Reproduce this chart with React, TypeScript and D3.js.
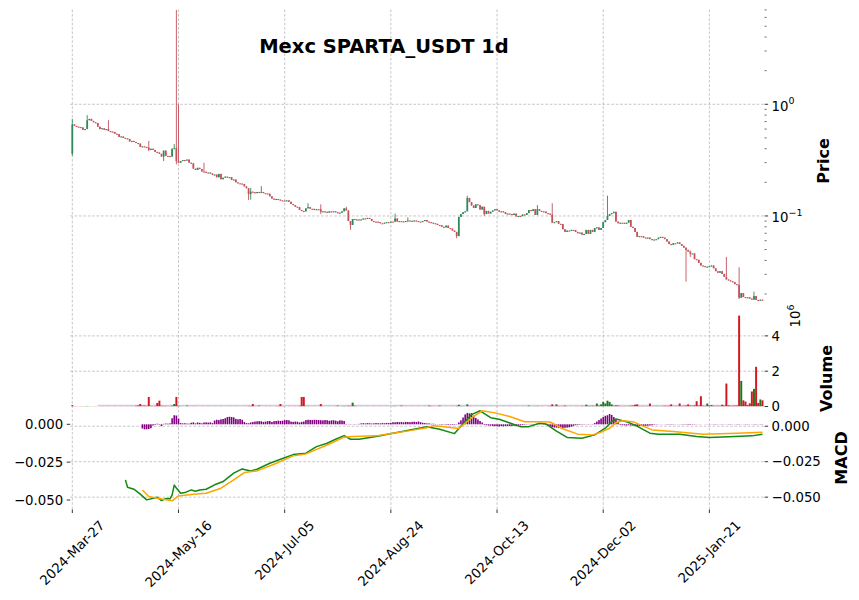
import React from "react";
import * as d3 from "d3";

// ---------------- DATA ----------------
const tickIndex = [0, 50, 100, 150, 200, 250, 300];
const tickLabels = ["2024-Mar-27", "2024-May-16", "2024-Jul-05", "2024-Aug-24", "2024-Oct-13", "2024-Dec-02", "2025-Jan-21"];

const opens = [
  0.36, 0.66, 0.64, 0.63, 0.625, 0.62, 0.59, 0.60, 0.72, 0.74,
  0.71, 0.69, 0.68, 0.63, 0.60, 0.61, 0.59, 0.60, 0.575, 0.57,
  0.565, 0.545, 0.54, 0.51, 0.515, 0.50, 0.495, 0.49, 0.465, 0.47,
  0.46, 0.45, 0.445, 0.415, 0.42, 0.415, 0.41, 0.39, 0.40, 0.39,
  0.375, 0.37, 0.36, 0.34, 0.385, 0.345, 0.344, 0.34, 0.40, 0.405,
  0.31, 0.30, 0.31, 0.317, 0.315, 0.32, 0.30, 0.296, 0.265, 0.258,
  0.27, 0.263, 0.25, 0.249, 0.244, 0.245, 0.24, 0.233, 0.235, 0.222,
  0.238, 0.213, 0.22, 0.225, 0.222, 0.223, 0.21, 0.212, 0.20, 0.196,
  0.195, 0.193, 0.184, 0.177, 0.157, 0.165, 0.163, 0.16, 0.164, 0.163,
  0.164, 0.16, 0.159, 0.158, 0.15, 0.143, 0.14, 0.142, 0.14, 0.138,
  0.1375, 0.137, 0.138, 0.134, 0.128, 0.125, 0.121, 0.12, 0.113, 0.111,
  0.11, 0.117, 0.12, 0.116, 0.1158, 0.113, 0.115, 0.1148, 0.109, 0.11,
  0.109, 0.107, 0.11, 0.109, 0.11, 0.108, 0.106, 0.107, 0.11, 0.117,
  0.112, 0.09, 0.083, 0.094, 0.092, 0.093, 0.092, 0.093, 0.095, 0.0945,
  0.096, 0.094, 0.09, 0.089, 0.0888, 0.088, 0.086, 0.0858, 0.087, 0.088,
  0.0878, 0.089, 0.0888, 0.095, 0.089, 0.09, 0.0895, 0.089, 0.09, 0.091,
  0.0905, 0.09, 0.091, 0.09, 0.089, 0.0888, 0.09, 0.092, 0.089, 0.088,
  0.087, 0.086, 0.085, 0.083, 0.0825, 0.08, 0.079, 0.082, 0.078, 0.077,
  0.074, 0.072, 0.066, 0.098, 0.104, 0.108, 0.11, 0.145, 0.133, 0.124,
  0.118, 0.127, 0.125, 0.114, 0.121, 0.104, 0.111, 0.105, 0.109, 0.112,
  0.115, 0.112, 0.109, 0.11, 0.108, 0.104, 0.105, 0.104, 0.102, 0.105,
  0.099, 0.1, 0.0995, 0.103, 0.102, 0.106, 0.113, 0.111, 0.115, 0.102,
  0.115, 0.111, 0.11, 0.1095, 0.106, 0.105, 0.103, 0.087, 0.088, 0.09,
  0.085, 0.0845, 0.076, 0.072, 0.074, 0.0738, 0.075, 0.0748, 0.072, 0.07,
  0.071, 0.068, 0.069, 0.075, 0.069, 0.075, 0.072, 0.078, 0.079, 0.075,
  0.078, 0.088, 0.092, 0.10, 0.104, 0.106, 0.109, 0.089, 0.086, 0.087,
  0.0868, 0.085, 0.087, 0.092, 0.08, 0.078, 0.072, 0.065, 0.066, 0.0658,
  0.064, 0.0635, 0.064, 0.062, 0.061, 0.0615, 0.062, 0.064, 0.065, 0.064,
  0.062, 0.059, 0.056, 0.055, 0.057, 0.0568, 0.058, 0.056, 0.054, 0.052,
  0.0497, 0.048, 0.046, 0.0462, 0.041, 0.0405, 0.038, 0.036, 0.0355, 0.035,
  0.0352, 0.0355, 0.036, 0.034, 0.032, 0.031, 0.032, 0.0303, 0.0285, 0.027,
  0.0265, 0.026, 0.0255, 0.0245, 0.0242, 0.0185, 0.0204, 0.0188, 0.0186, 0.0187,
  0.0182, 0.0178, 0.0192, 0.0177, 0.0175, 0.0178,
];

const closes = [
  0.66, 0.64, 0.63, 0.625, 0.62, 0.59, 0.60, 0.72, 0.74, 0.71,
  0.69, 0.68, 0.63, 0.60, 0.61, 0.59, 0.60, 0.575, 0.57, 0.565,
  0.545, 0.54, 0.51, 0.515, 0.50, 0.495, 0.49, 0.465, 0.47, 0.46,
  0.45, 0.445, 0.415, 0.42, 0.415, 0.41, 0.39, 0.40, 0.39, 0.375,
  0.37, 0.36, 0.34, 0.385, 0.345, 0.344, 0.34, 0.40, 0.405, 0.31,
  0.30, 0.31, 0.317, 0.315, 0.32, 0.30, 0.296, 0.265, 0.258, 0.27,
  0.263, 0.25, 0.249, 0.244, 0.245, 0.24, 0.233, 0.235, 0.222, 0.238,
  0.213, 0.22, 0.225, 0.222, 0.223, 0.21, 0.212, 0.20, 0.196, 0.195,
  0.193, 0.184, 0.177, 0.157, 0.165, 0.163, 0.16, 0.164, 0.163, 0.164,
  0.16, 0.159, 0.158, 0.15, 0.143, 0.14, 0.142, 0.14, 0.138, 0.1375,
  0.137, 0.138, 0.134, 0.128, 0.125, 0.121, 0.12, 0.113, 0.111, 0.11,
  0.117, 0.12, 0.116, 0.1158, 0.113, 0.115, 0.1148, 0.109, 0.11, 0.109,
  0.107, 0.11, 0.109, 0.11, 0.108, 0.106, 0.107, 0.11, 0.117, 0.112,
  0.09, 0.083, 0.094, 0.092, 0.093, 0.092, 0.093, 0.095, 0.0945, 0.096,
  0.094, 0.09, 0.089, 0.0888, 0.088, 0.086, 0.0858, 0.087, 0.088, 0.0878,
  0.089, 0.0888, 0.095, 0.089, 0.09, 0.0895, 0.089, 0.09, 0.091, 0.0905,
  0.09, 0.091, 0.09, 0.089, 0.0888, 0.09, 0.092, 0.089, 0.088, 0.087,
  0.086, 0.085, 0.083, 0.0825, 0.08, 0.079, 0.082, 0.078, 0.077, 0.074,
  0.072, 0.066, 0.098, 0.104, 0.108, 0.11, 0.145, 0.133, 0.124, 0.118,
  0.127, 0.125, 0.114, 0.121, 0.104, 0.111, 0.105, 0.109, 0.112, 0.115,
  0.112, 0.109, 0.11, 0.108, 0.104, 0.105, 0.104, 0.102, 0.105, 0.099,
  0.1, 0.0995, 0.103, 0.102, 0.106, 0.113, 0.111, 0.115, 0.102, 0.115,
  0.111, 0.11, 0.1095, 0.106, 0.105, 0.103, 0.087, 0.088, 0.09, 0.085,
  0.0845, 0.076, 0.072, 0.074, 0.0738, 0.075, 0.0748, 0.072, 0.07, 0.071,
  0.068, 0.069, 0.075, 0.069, 0.075, 0.072, 0.078, 0.079, 0.075, 0.078,
  0.088, 0.092, 0.10, 0.104, 0.106, 0.109, 0.089, 0.086, 0.087, 0.0868,
  0.085, 0.087, 0.092, 0.08, 0.078, 0.072, 0.065, 0.066, 0.0658, 0.064,
  0.0635, 0.064, 0.062, 0.061, 0.0615, 0.062, 0.064, 0.065, 0.064, 0.062,
  0.059, 0.056, 0.055, 0.057, 0.0568, 0.058, 0.056, 0.054, 0.052, 0.0497,
  0.048, 0.046, 0.0462, 0.041, 0.0405, 0.038, 0.036, 0.0355, 0.035, 0.0352,
  0.0355, 0.036, 0.034, 0.032, 0.031, 0.032, 0.0303, 0.0285, 0.027, 0.0265,
  0.026, 0.0255, 0.0245, 0.0242, 0.0185, 0.0204, 0.0188, 0.0186, 0.0187, 0.0182,
  0.0178, 0.0192, 0.0177, 0.0175, 0.0178, 0.0176,
];

// notable wicks (index -> price)
const wickHighIdx = [0, 7, 17, 36, 48, 49, 50, 62, 84, 89, 111, 117, 129, 152, 158, 186, 219, 226, 252, 291, 308, 314, 321];
const wickHighVal = [0.74, 0.80, 0.72, 0.47, 0.44, 7.0, 1.0, 0.30, 0.178, 0.185, 0.13, 0.127, 0.121, 0.105, 0.097, 0.152, 0.125, 0.13, 0.152, 0.049, 0.043, 0.0347, 0.021];
const wickLowIdx = [0, 36, 43, 49, 83, 84, 117, 131, 181, 194, 289, 291, 314];
const wickLowVal = [0.345, 0.38, 0.31, 0.29, 0.139, 0.14, 0.104, 0.075, 0.063, 0.1, 0.0258, 0.043, 0.018];

// volume, in millions
const volumeMillions = [
  0.08, 0.02, 0.02, 0.01, 0.02, 0.01, 0.02, 0.03, 0.02, 0.01,
  0.01, 0.02, 0.01, 0.01, 0.02, 0.01, 0.01, 0.02, 0.01, 0.01,
  0.02, 0.01, 0.01, 0.02, 0.01, 0.01, 0.02, 0.01, 0.02, 0.01,
  0.04, 0.06, 0.14, 0.04, 0.05, 0.03, 0.54, 0.03, 0.02, 0.03,
  0.2, 0.33, 0.04, 0.03, 0.03, 0.02, 0.02, 0.05, 0.14, 0.54,
  0.04, 0.02, 0.02, 0.01, 0.05, 0.02, 0.01, 0.02, 0.02, 0.01,
  0.01, 0.02, 0.01, 0.01, 0.02, 0.01, 0.01, 0.02, 0.01, 0.01,
  0.02, 0.01, 0.01, 0.01, 0.02, 0.01, 0.01, 0.02, 0.01, 0.01,
  0.01, 0.02, 0.01, 0.03, 0.03, 0.14, 0.02, 0.02, 0.05, 0.01,
  0.01, 0.02, 0.01, 0.02, 0.01, 0.01, 0.02, 0.03, 0.14, 0.02,
  0.01, 0.01, 0.02, 0.01, 0.01, 0.02, 0.01, 0.03, 0.54, 0.54,
  0.02, 0.02, 0.01, 0.01, 0.02, 0.01, 0.01, 0.14, 0.02, 0.01,
  0.01, 0.02, 0.01, 0.01, 0.02, 0.05, 0.01, 0.02, 0.03, 0.02,
  0.04, 0.03, 0.22, 0.04, 0.02, 0.01, 0.02, 0.01, 0.01, 0.02,
  0.01, 0.01, 0.02, 0.01, 0.01, 0.02, 0.01, 0.01, 0.02, 0.01,
  0.01, 0.02, 0.03, 0.01, 0.01, 0.05, 0.01, 0.02, 0.01, 0.01,
  0.02, 0.01, 0.01, 0.02, 0.01, 0.01, 0.02, 0.01, 0.05, 0.03,
  0.02, 0.01, 0.02, 0.05, 0.01, 0.01, 0.02, 0.01, 0.01, 0.02,
  0.01, 0.03, 0.1, 0.03, 0.02, 0.02, 0.12, 0.03, 0.02, 0.01,
  0.02, 0.01, 0.01, 0.02, 0.02, 0.01, 0.01, 0.02, 0.01, 0.01,
  0.02, 0.01, 0.01, 0.02, 0.01, 0.01, 0.02, 0.01, 0.01, 0.02,
  0.01, 0.01, 0.02, 0.01, 0.02, 0.05, 0.01, 0.02, 0.02, 0.03,
  0.01, 0.02, 0.01, 0.01, 0.02, 0.03, 0.12, 0.02, 0.12, 0.03,
  0.02, 0.03, 0.05, 0.02, 0.01, 0.02, 0.01, 0.02, 0.02, 0.01,
  0.03, 0.02, 0.1, 0.04, 0.03, 0.04, 0.03, 0.17, 0.05, 0.12,
  0.26, 0.17, 0.33, 0.26, 0.12, 0.04, 0.06, 0.05, 0.03, 0.02,
  0.03, 0.02, 0.03, 0.04, 0.05, 0.1, 0.12, 0.03, 0.02, 0.03,
  0.02, 0.03, 0.17, 0.02, 0.02, 0.03, 0.02, 0.02, 0.03, 0.04,
  0.03, 0.04, 0.12, 0.02, 0.03, 0.02, 0.17, 0.03, 0.04, 0.05,
  0.12, 0.05, 0.04, 0.06, 0.3, 0.05, 0.58, 0.04, 0.03, 0.17,
  0.06, 0.08, 0.04, 0.03, 0.04, 0.03, 0.1, 0.05, 1.3, 0.06,
  0.04, 0.04, 0.05, 0.05, 5.15, 1.45, 0.35, 0.28, 0.08, 0.18,
  0.85, 1.0, 2.25, 0.2, 0.4, 0.35,
];
const volumeLineStart = 12;

// MACD histogram, starting at index 33
const histStart = 33;
const macdHist = [
  -0.0028, -0.0033, -0.0033, -0.0031, -0.0026, -0.0008, -0.0004, 0.0004, -0.0003, -0.0012,
  0.0003, 0.0005, 0.0004, 0.0006, 0.004, 0.006, 0.0058, 0.0038, 0.0008, 0.0006,
  0.0007, 0.0005, 0.0004, 0.001, 0.0013, 0.0006, 0.0012, 0.001, 0.0006, 0.0012,
  0.0013, 0.0011, 0.0013, 0.0008, 0.0025, 0.003, 0.0028, 0.0033, 0.0035, 0.004,
  0.0048, 0.005, 0.0048, 0.0046, 0.0036, 0.0033, 0.0035, 0.003, 0.0015, 0.0008,
  0.0007, 0.0012, 0.0015, 0.0018, 0.002, 0.0021, 0.002, 0.0016, 0.0018, 0.0021,
  0.0022, 0.0015, 0.0021, 0.0022, 0.0024, 0.0022, 0.0024, 0.0027, 0.0028, 0.0026,
  0.0018, 0.0016, 0.0018, 0.0017, 0.0012, 0.0016, 0.0018, 0.0028, 0.003, 0.0029,
  0.0028, 0.003, 0.0029, 0.0028, 0.0027, 0.0026, 0.0028, 0.0027, 0.0023, 0.0026,
  0.0027, 0.0024, 0.002, 0.0026, 0.0025, 0.0022, 0.0002, 0.0001, -0.0002, 0.0001,
  0.0002, 0.0001, 0.0003, 0.0006, 0.0007, 0.0006, 0.0008, 0.0007, 0.0005, 0.0006,
  0.0008, 0.0007, 0.0006, 0.0008, 0.0007, 0.0009, 0.0008, 0.001, 0.0014, 0.0013,
  0.0015, 0.0014, 0.0015, 0.0013, 0.0016, 0.0015, 0.0014, 0.0016, 0.0017, 0.0015,
  0.0018, 0.0014, 0.001, 0.0008, 0.0006, 0.0006, 0.0003, 0.0004, 0.0002, 0.0001,
  -0.0002, -0.0003, -0.0002, -0.0003, -0.0004, -0.0003, -0.0004, -0.0003, -0.0002, 0.0012,
  0.0026, 0.0045, 0.0065, 0.0075, 0.0072, 0.0074, 0.0057, 0.0042, 0.0032, 0.0022,
  0.0012, -0.0004, -0.0006, -0.0008, -0.0009, -0.0011, -0.0012, -0.0013, -0.0014, -0.0012,
  -0.0013, -0.0012, -0.0011, -0.0012, -0.0011, -0.001, -0.0011, -0.0008, -0.0007, -0.0005,
  -0.0003, -0.0002, 0.0001, 0.0002, 0.0002, 0.0001, 0.0003, 0.0002, 0.0001, -0.0002,
  -0.0004, -0.0008, -0.0015, -0.0019, -0.0021, -0.0022, -0.0024, -0.0025, -0.0024, -0.0023,
  -0.0022, -0.002, -0.0016, -0.001, -0.0006, -0.0004, -0.0003, -0.0002, -0.0002, -0.0001,
  -0.0002, 0.0001, 0.0002, 0.0008, 0.0018, 0.0028, 0.0038, 0.0048, 0.0056, 0.006,
  0.0068, 0.0062, 0.0048, 0.003, 0.0016, -0.0004, -0.0006, -0.0007, -0.0008, -0.0006,
  -0.0008, -0.0009, -0.0011, -0.0012, -0.0011, -0.0012, -0.0011, -0.001, -0.0009, -0.0008,
  -0.0006, -0.0003, -0.0002, -0.0001, 0.0001, 0.0001, -0.0001, -0.0002, -0.0002, -0.0002,
  -0.0002, -0.0001, -0.0001, -0.0001, -0.0002, -0.0002, -0.0002, -0.0003, -0.0003, -0.0002,
  -0.0002, -0.0001, -0.0001, -0.0001, 0.0, 0.0001, 0.0001, 0.0001, 0.0001, 0.0002,
  0.0002, 0.0001, 0.0001, 0.0002, 0.0001, 0.0001, 0.0002, 0.0002, 0.0001, 0.0001,
  0.0002, 0.0002, 0.0001, 0.0001, 0.0002, 0.0002, 0.0001, 0.0001, 0.0002, 0.0002,
  0.0001, 0.0002, 0.0002,
];

// MACD line (index, value)
const macdIdx = [25, 26, 29, 32, 35, 40, 42, 44, 46, 47, 48, 49, 51, 53, 56, 58, 60, 63, 67, 71, 76, 80, 84, 87, 93, 99, 104, 110, 115, 120, 124, 128, 131, 135, 143, 151, 159, 167, 173, 180, 184, 188, 192, 197, 201, 206, 211, 215, 220, 223, 228, 233, 240, 246, 251, 254, 256, 261, 265, 272, 276, 286, 294, 300, 312, 320, 325];
const macdVal = [-0.0378, -0.043, -0.0444, -0.0479, -0.0519, -0.05, -0.0524, -0.051, -0.0512, -0.0484, -0.0415, -0.0435, -0.0472, -0.0468, -0.0449, -0.0458, -0.0449, -0.0444, -0.0413, -0.039, -0.0331, -0.0301, -0.0315, -0.0303, -0.0261, -0.0228, -0.02, -0.019, -0.0144, -0.012, -0.0092, -0.0066, -0.0092, -0.0092, -0.0073, -0.0049, -0.0026, -0.0003, -0.0021, -0.0052, 0.0018, 0.0082, 0.0109, 0.006, 0.0049, 0.0023, -0.0003, -0.0003, 0.0021, 0.0016, -0.0035, -0.0079, -0.0085, -0.0061, -0.0014, 0.0032, 0.0051, 0.0032, 0.0008, -0.0049, -0.0056, -0.0056, -0.0073, -0.008, -0.0073, -0.0068, -0.0056];

// Signal line (index, value)
const signalIdx = [33, 36, 40, 47, 50, 57, 63, 70, 76, 81, 87, 95, 104, 110, 120, 128, 132, 143, 151, 159, 167, 170, 173, 182, 188, 193, 199, 206, 213, 220, 225, 231, 238, 245, 249, 253, 256, 259, 264, 273, 283, 297, 313, 325];
const signalVal = [-0.0449, -0.0496, -0.0507, -0.0526, -0.0491, -0.0479, -0.0472, -0.0437, -0.0378, -0.0327, -0.0315, -0.0268, -0.0209, -0.0195, -0.0132, -0.0077, -0.0073, -0.0068, -0.0049, -0.0031, -0.001, 0.0004, 0.0, -0.0016, 0.0058, 0.0109, 0.0094, 0.0068, 0.0032, 0.0032, 0.003, -0.0018, -0.0056, -0.0061, -0.0042, -0.0014, 0.0025, 0.0039, 0.0032, -0.0026, -0.0038, -0.0056, -0.0049, -0.0042];

const macdTicks = [0, -0.025, -0.05];
const volumeTicks = [0, 2, 4];

// ---------------- STYLE ----------------
const FONT = "'DejaVu Sans', 'Liberation Sans', sans-serif";
const UP = "#2e8b57";
const DOWN = "#c4505a";
const VOL_UP = "#1b7a1b";
const VOL_DOWN = "#d3161f";
const GRID = "#b8b8b8";
const TICK_FS = 13.3;

function measure(text: string, font: string): number {
  if (typeof document === "undefined") return text.length * 7.5;
  const ctx = document.createElement("canvas").getContext("2d");
  if (!ctx) return text.length * 7.5;
  ctx.font = font;
  return ctx.measureText(text).width;
}

export default function App() {
  const W = 859;
  const H = 600;
  const n = closes.length;
  const x = d3.scaleLinear().domain([-1, n]).range([70.2, 764.6]);
  const step = x(1) - x(0);
  const left = x(-1);
  const right = x(n);
  const priceTop = 9.5;
  const priceBottom = 306.4;
  const volBottom = 406.5;
  const macdBottom = 509.5;

  const yP = d3.scaleLog().domain([0.01549, 7.06]).range([priceBottom, priceTop]);
  const yV = d3.scaleLinear().domain([0, 5.67]).range([volBottom, priceBottom]);
  const yM = d3.scaleLinear().domain([-0.0587, 0.0139]).range([macdBottom, volBottom]);
  const yH = d3.scaleLinear().domain([-0.05627, 0.01176]).range([macdBottom, volBottom]);

  const hiMap = new Map<number, number>(wickHighIdx.map((i, k) => [i, wickHighVal[k]]));
  const loMap = new Map<number, number>(wickLowIdx.map((i, k) => [i, wickLowVal[k]]));

  const candles = closes.map((c, i) => {
    const o = opens[i];
    const hi = Math.max(o, c, hiMap.get(i) ?? 0);
    const lo = Math.min(o, c, loMap.get(i) ?? Infinity);
    return { i, o, c, hi, lo, up: c >= o };
  });

  const bodyW = step * 0.82;
  const volW = step * 0.92;
  const histW = step * 0.75;

  const macdLine = d3
    .line<number>()
    .x((_, k) => x(macdIdx[k]))
    .y((v) => yM(v));
  const signalLine = d3
    .line<number>()
    .x((_, k) => x(signalIdx[k]))
    .y((v) => yM(v));

  const fmt3 = d3.format(".3f");
  const priceMinor = yP.ticks().filter((v) => {
    const l = Math.log10(v);
    return Math.abs(l - Math.round(l)) > 1e-9;
  });
  const priceMajor = [1, 0.1];

  const tickFont = `${TICK_FS}px 'DejaVu Sans'`;
  const dash = "2.6,1.8";

  return (
    <svg
      width={W}
      height={H}
      viewBox={`0 0 ${W} ${H}`}
      style={{ position: "absolute", left: 0, top: 0, background: "#fff" }}
      fontFamily={FONT}
    >
      <defs>
        <clipPath id="clipPrice">
          <rect x={left} y={priceTop} width={right - left} height={priceBottom - priceTop} />
        </clipPath>
        <clipPath id="clipVol">
          <rect x={left} y={priceBottom} width={right - left} height={volBottom - priceBottom} />
        </clipPath>
        <clipPath id="clipMacd">
          <rect x={left} y={volBottom} width={right - left} height={macdBottom - volBottom} />
        </clipPath>
      </defs>
      <rect x={0} y={0} width={W} height={H} fill="#fff" />

      {/* grid */}
      <g stroke={GRID} strokeWidth={0.8} strokeDasharray={dash} fill="none">
        {tickIndex.map((t) => (
          <line key={"vg" + t} x1={x(t)} x2={x(t)} y1={priceTop} y2={macdBottom} />
        ))}
        {priceMajor.map((v) => (
          <line key={"pg" + v} x1={left} x2={right} y1={yP(v)} y2={yP(v)} />
        ))}
        {volumeTicks.filter((v) => v > 0).map((v) => (
          <line key={"vgh" + v} x1={left} x2={right} y1={yV(v)} y2={yV(v)} />
        ))}
        {macdTicks.map((v) => (
          <line key={"mg" + v} x1={left} x2={right} y1={yM(v)} y2={yM(v)} />
        ))}
      </g>

      {/* candles */}
      <g clipPath="url(#clipPrice)">
        {candles.map((d) => {
          const col = d.up ? UP : DOWN;
          const yTop = yP(Math.max(d.o, d.c));
          const yBot = yP(Math.min(d.o, d.c));
          return (
            <g key={"c" + d.i}>
              <line x1={x(d.i)} x2={x(d.i)} y1={yP(d.hi)} y2={yP(d.lo)} stroke={col} strokeWidth={0.9} />
              <rect
                x={x(d.i) - bodyW / 2}
                y={yTop}
                width={bodyW}
                height={Math.max(1.1, yBot - yTop)}
                fill={col}
              />
            </g>
          );
        })}
      </g>

      {/* volume */}
      <g clipPath="url(#clipVol)">
        <line
          x1={x(volumeLineStart)}
          x2={x(n - 1)}
          y1={yV(0) - 0.9}
          y2={yV(0) - 0.9}
          stroke="#c9c9f1"
          strokeWidth={1.5}
        />
        {volumeMillions.map((v, i) => (
          <rect
            key={"v" + i}
            x={x(i) - volW / 2}
            y={yV(v)}
            width={volW}
            height={yV(0) - yV(v)}
            fill={candles[i].up ? VOL_UP : VOL_DOWN}
          />
        ))}
      </g>

      {/* MACD */}
      <g clipPath="url(#clipMacd)">
        {macdHist.map((v, k) => {
          const i = histStart + k;
          const y0 = yH(0);
          const y1 = yH(v);
          return (
            <rect
              key={"h" + i}
              x={x(i) - histW / 2}
              y={Math.min(y0, y1)}
              width={histW}
              height={Math.abs(y1 - y0)}
              fill="#800080"
            />
          );
        })}
        <path d={macdLine(macdVal) || ""} fill="none" stroke="#128a12" strokeWidth={1.5} strokeLinejoin="round" />
        <path d={signalLine(signalVal) || ""} fill="none" stroke="#ffa500" strokeWidth={1.5} strokeLinejoin="round" />
      </g>

      {/* title */}
      <text x={384} y={53} textAnchor="middle" fontSize={19.5} fontWeight="bold" fill="#000">
        Mexc SPARTA_USDT 1d
      </text>

      {/* axis ticks */}
      <g stroke="#000" strokeWidth={0.8}>
        {priceMajor.map((v) => (
          <line key={"pmt" + v} x1={right} x2={right + 3.5} y1={yP(v)} y2={yP(v)} />
        ))}
        {priceMinor.map((v) => (
          <line key={"pnt" + v} x1={right} x2={right + 2} y1={yP(v)} y2={yP(v)} strokeWidth={0.6} />
        ))}
        {volumeTicks.map((v) => (
          <line key={"vt" + v} x1={right} x2={right + 3.5} y1={yV(v)} y2={yV(v)} />
        ))}
        {macdTicks.map((v) => (
          <line key={"mtr" + v} x1={right} x2={right + 3.5} y1={yM(v)} y2={yM(v)} />
        ))}
        {macdTicks.map((v) => (
          <line key={"mtl" + v} x1={left - 3.5} x2={left} y1={yH(v)} y2={yH(v)} />
        ))}
        {tickIndex.map((t) => (
          <line key={"xt" + t} x1={x(t)} x2={x(t)} y1={macdBottom} y2={macdBottom + 3.5} />
        ))}
      </g>

      <g fontSize={TICK_FS} fill="#000">
        {priceMajor.map((v) => (
          <text key={"pl" + v} x={right + 7} y={yP(v) + 6.5}>
            10
            <tspan fontSize={9.5} dy={-6.5}>
              {Math.round(Math.log10(v)) === 0 ? "0" : "\u22121"}
            </tspan>
          </text>
        ))}
        {volumeTicks.map((v) => (
          <text key={"vl" + v} x={right + 7} y={yV(v)} dy="0.36em">
            {String(v)}
          </text>
        ))}
        {macdTicks.map((v) => (
          <text key={"mlr" + v} x={right + 7} y={yM(v)} dy="0.36em">
            {fmt3(v)}
          </text>
        ))}
        {macdTicks.map((v) => (
          <text key={"mll" + v} x={left - 7} y={yH(v)} dy="0.36em" textAnchor="end">
            {fmt3(v)}
          </text>
        ))}
        {tickIndex.map((t, k) => {
          const label = tickLabels[k];
          const w = measure(label, tickFont);
          const h = 15.5;
          const cx = x(t);
          const cy = macdBottom + 8 + (w + h) / (2 * Math.SQRT2);
          return (
            <text
              key={"xl" + t}
              x={cx}
              y={cy}
              textAnchor="middle"
              dominantBaseline="central"
              transform={`rotate(-45, ${cx}, ${cy})`}
            >
              {label}
            </text>
          );
        })}
      </g>

      {/* volume offset text */}
      <text
        x={0}
        y={0}
        fontSize={TICK_FS}
        fill="#000"
        textAnchor="middle"
        transform={`translate(800, 316) rotate(-90)`}
      >
        10
        <tspan fontSize={9.5} dy={-6}>
          6
        </tspan>
      </text>

      {/* axis labels */}
      <g fontSize={16} fontWeight="bold" fill="#000" textAnchor="middle">
        <text transform={`translate(829, ${(priceTop + priceBottom) / 2 + 3}) rotate(-90)`}>Price</text>
        <text transform={`translate(832, ${(priceBottom + volBottom) / 2 + 22}) rotate(-90)`}>Volume</text>
        <text transform={`translate(847, ${(volBottom + macdBottom) / 2}) rotate(-90)`}>MACD</text>
      </g>
    </svg>
  );
}
